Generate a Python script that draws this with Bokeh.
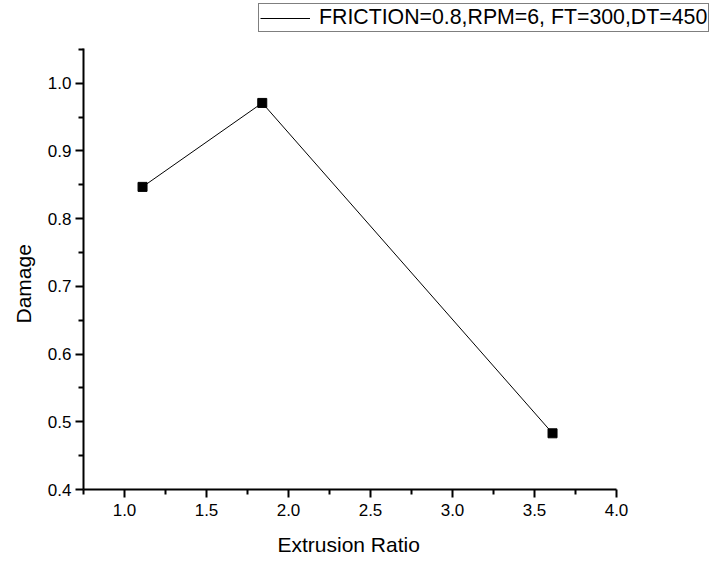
from bokeh.plotting import figure
from bokeh.models import (FixedTicker, PrintfTickFormatter, Legend, LegendItem,
                          Range1d, Title, LinearAxis)
from bokeh.embed import file_html
from bokeh.resources import INLINE

# Damage versus extrusion ratio for one process setting
extrusion_ratio = [1.11, 1.84, 3.61]
damage = [0.847, 0.971, 0.483]
series_name = "FRICTION=0.8,RPM=6, FT=300,DT=450"

x_major = [1.0, 1.5, 2.0, 2.5, 3.0, 3.5, 4.0]
x_minor = [0.75, 1.25, 1.75, 2.25, 2.75, 3.25, 3.75]
y_major = [0.4, 0.5, 0.6, 0.7, 0.8, 0.9, 1.0]
y_minor = [0.45, 0.55, 0.65, 0.75, 0.85, 0.95, 1.05]

# extent of the drawn axes; the plotting area extends past them so the
# legend box at the top right sits inside the frame
x_axis_span = (0.75, 4.0)
y_axis_span = (0.4, 1.052)

FONT = "Liberation Sans"

p = figure(
    width=718, height=562, title=None,
    output_backend="svg", toolbar_location=None,
    x_range=Range1d(0.75, 4.622), y_range=Range1d(0.4, 1.1223),
    min_border_left=83, min_border_right=0,
    min_border_top=0, min_border_bottom=73,
)
p.outline_line_color = None
p.xgrid.visible = False
p.ygrid.visible = False
p.background_fill_color = "white"
p.border_fill_color = "white"

line = p.line(extrusion_ratio, damage, line_color="black", line_width=1)
p.scatter(extrusion_ratio, damage, marker="square", size=9,
          fill_color="black", line_color="black")

for ax, major, minor, span in (
    (p.xaxis[0], x_major, x_minor, x_axis_span),
    (p.yaxis[0], y_major, y_minor, y_axis_span),
):
    ax.ticker = FixedTicker(ticks=major, minor_ticks=minor)
    ax.formatter = PrintfTickFormatter(format="%.1f")
    ax.bounds = span
    ax.major_label_text_font = FONT
    ax.major_label_text_font_size = "17px"
    ax.major_label_text_color = "black"
    ax.axis_line_width = 2
    ax.axis_line_color = "black"
    ax.major_tick_line_width = 2
    ax.minor_tick_line_width = 2
    ax.major_tick_line_color = "black"
    ax.minor_tick_line_color = "black"
    ax.major_tick_out = 8
    ax.major_tick_in = 0
    ax.minor_tick_out = 5
    ax.minor_tick_in = 0

p.xaxis.major_label_standoff = 6
p.yaxis.major_label_standoff = 4
p.yaxis.major_label_orientation = "horizontal"

# invisible spacer axis: one unmarked tick past the drawn span adds a gap
# between the tick labels and the x title
gap_axis = LinearAxis(ticker=FixedTicker(ticks=[4.5]), axis_line_color=None,
                      major_tick_line_color=None, minor_tick_line_color=None,
                      major_tick_out=10, major_tick_in=0,
                      minor_tick_out=0, minor_tick_in=0,
                      major_label_standoff=0,
                      major_label_overrides={4.5: ""},
                      major_label_text_font_size="1px")
p.add_layout(gap_axis, "below")

# axis titles, positioned along the drawn axis spans
p.add_layout(Title(text="Extrusion Ratio", align="left", offset=194,
                   text_font=FONT, text_font_size="21px",
                   text_font_style="normal", text_color="black",
                   standoff=4), "below")
p.add_layout(Title(text="Damage", align="left", offset=166,
                   text_font=FONT, text_font_size="21px",
                   text_font_style="normal", text_color="black",
                   standoff=19), "left")

legend = Legend(
    items=[LegendItem(label=series_name, renderers=[line])],
    location=(175, 457),
    label_text_font=FONT,
    label_text_font_size="21.3px",
    label_text_color="black",
    border_line_color="black",
    border_line_width=1,
    background_fill_alpha=1.0,
    padding=1,
    margin=0,
    glyph_width=50,
    glyph_height=20,
    label_height=20,
    label_standoff=9,
)
p.add_layout(legend, "center")

open("out.html", "w").write(file_html(p, INLINE))
